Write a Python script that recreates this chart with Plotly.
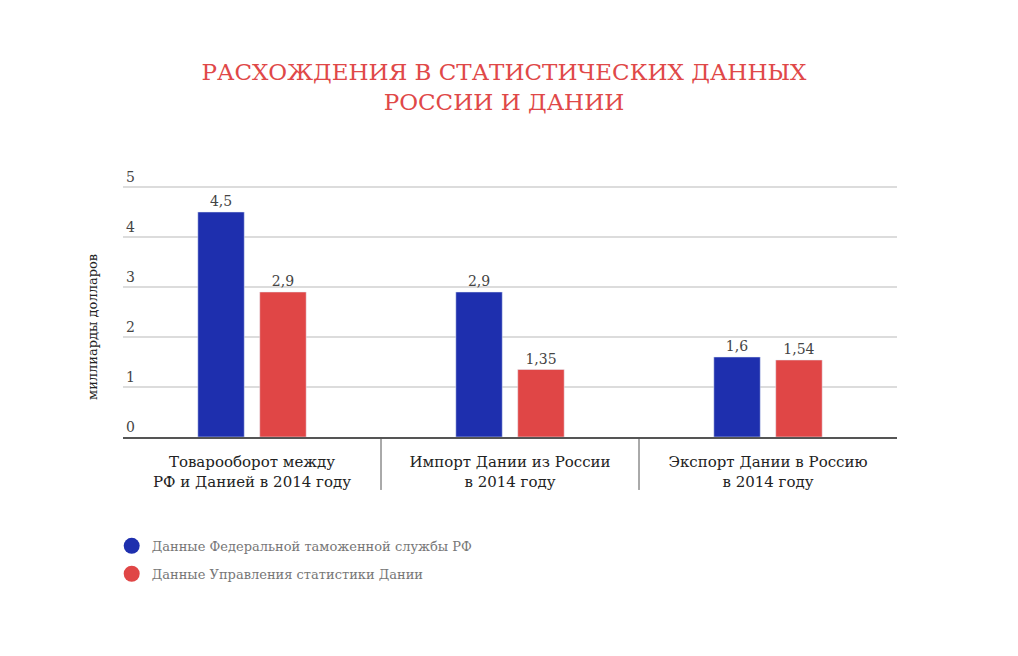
import plotly.graph_objects as go

categories = ["Товарооборот между<br>РФ и Данией в 2014 году",
              "Импорт Дании из России<br>в 2014 году",
              "Экспорт Дании в Россию<br>в 2014 году"]
russia_vals = [4.5, 2.9, 1.6]
denmark_vals = [2.9, 1.35, 1.54]
russia_name = "Данные Федеральной таможенной службы РФ"
denmark_name = "Данные Управления статистики Дании"

BLUE = "#1e2fae"
RED = "#e04646"
SERIF = "DejaVu Serif, Liberation Serif, serif"


def fmt(v):
    return str(v).replace(".", ",")


fig = go.Figure()
fig.add_trace(go.Bar(x=categories, y=russia_vals, marker_color=BLUE,
                     text=[fmt(v) for v in russia_vals], textposition="outside",
                     cliponaxis=False, showlegend=False,
                     textfont=dict(family=SERIF, size=14, color="#444")))
fig.add_trace(go.Bar(x=categories, y=denmark_vals, marker_color=RED,
                     text=[fmt(v) for v in denmark_vals], textposition="outside",
                     cliponaxis=False, showlegend=False,
                     textfont=dict(family=SERIF, size=14, color="#444")))

# legend entries as round markers
fig.add_trace(go.Scatter(x=[None], y=[None], mode="markers", name=russia_name,
                         legendgroup="ru",
                         marker=dict(color=BLUE, size=18, symbol="circle")))
fig.add_trace(go.Scatter(x=[None], y=[None], mode="markers", name=denmark_name,
                         legendgroup="dk",
                         marker=dict(color=RED, size=18, symbol="circle")))

# separators between categories
shapes = []
for b in [0.5, 1.5]:
    shapes.append(dict(type="line", xref="x", yref="paper", x0=b, x1=b, y0=0, y1=-0.194,
                       line=dict(color="#555", width=1)))

fig.update_layout(
    width=1002, height=640,
    paper_bgcolor="white", plot_bgcolor="white",
    margin=dict(l=115, r=113, t=156, b=211),
    barmode="group", bargap=0.52, bargroupgap=0.25,
    font=dict(family=SERIF, color="#222"),
    title=dict(text="РАСХОЖДЕНИЯ В СТАТИСТИЧЕСКИХ ДАННЫХ<br>РОССИИ И ДАНИИ",
               x=0.495, xanchor="center", y=0.888, yanchor="middle",
               font=dict(family=SERIF, size=23, color="#e04848")),
    shapes=shapes,
    legend=dict(x=-0.0146, xanchor="left", y=-0.344, yanchor="top", orientation="v",
                itemsizing="trace", tracegroupgap=8, traceorder="grouped",
                font=dict(family=SERIF, size=13, color="#777")),
    annotations=[dict(text="миллиарды долларов", textangle=-90, xref="paper", yref="paper",
                      x=-0.0388, xanchor="center", y=0.403, yanchor="middle",
                      showarrow=False,
                      font=dict(family=SERIF, size=13, color="#222"))],
)
fig.update_yaxes(range=[0, 5.46], tickvals=[0, 1, 2, 3, 4, 5], showgrid=True,
                 gridcolor="#dcdcdc", gridwidth=2,
                 ticklabelposition="inside top", zeroline=False, showline=False,
                 tickfont=dict(family=SERIF, size=14, color="#444"))
fig.update_xaxes(range=[-0.5, 2.5], showline=True, linecolor="#555", linewidth=2, ticks="",
                 ticklabelstandoff=10,
                 tickfont=dict(family=SERIF, size=15, color="#222"))

fig.write_html("out.html")
